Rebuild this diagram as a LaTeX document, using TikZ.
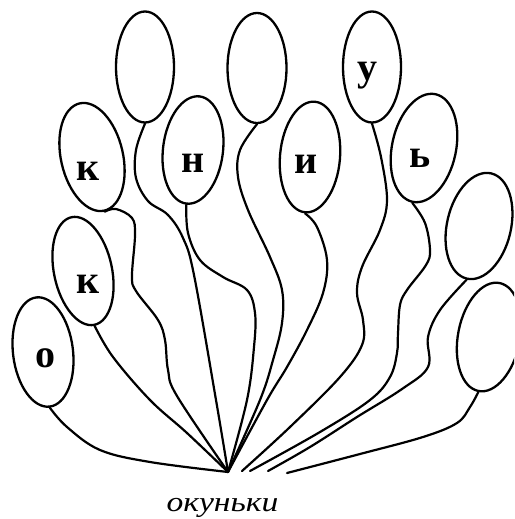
\documentclass[tikz,border=0pt]{standalone}
\usepackage{fontspec}
\setmainfont{Liberation Serif}
\usetikzlibrary{shapes.geometric}
\begin{document}
\begin{tikzpicture}[x=1pt,y=-1pt,
  blob/.style={draw, line width=2.3pt, ellipse, inner sep=0pt},
  wire/.style={line width=2.2pt, line cap=round},
  letter/.style={anchor=base, inner sep=0pt, font=\fontsize{40}{40}\selectfont\bfseries},
  caption/.style={anchor=base, inner sep=0pt, font=\fontsize{28}{28}\selectfont\itshape}]
\clip (0,0) rectangle (514,519);
\useasboundingbox (0,0) rectangle (514,519);
% ellipses
\node[blob, minimum width=58pt, minimum height=111pt] (A) at (145,67) {};
\node[blob, minimum width=59pt, minimum height=110pt] (B) at (257,68) {};
\node[blob, minimum width=58pt, minimum height=111pt] (u) at (372,67) {};
\node[blob, minimum width=62pt, minimum height=110pt, rotate=13] (ku) at (92,157) {};
\node[blob, minimum width=58pt, minimum height=110pt, rotate=12] (kl) at (83,271) {};
\node[blob, minimum width=60pt, minimum height=110pt, rotate=7] (o) at (43,352) {};
\node[blob, minimum width=60pt, minimum height=108pt, rotate=-7] (n) at (193,150) {};
\node[blob, minimum width=60pt, minimum height=111pt, rotate=-5] (i) at (310,157) {};
\node[blob, minimum width=64pt, minimum height=110pt, rotate=-12] (s) at (424,148) {};
\node[blob, minimum width=64pt, minimum height=108pt, rotate=-13] (r1) at (479,226) {};
\node[blob, minimum width=62pt, minimum height=110pt, rotate=-11] (r2) at (489,337) {};
% letters
\node[letter] (tku) at (88,180) {к};
\node[letter] (tkl) at (88,293) {к};
\node[letter] (to) at (45,367) {о};
\node[letter] (tn) at (193,172) {н};
\node[letter] (ti) at (306,173) {и};
\node[letter] (tu) at (367,80) {у};
\node[letter] (ts) at (420,167) {ь};
% ends
\coordinate (c) at (228,472);
\coordinate (e1) at (242,471);
\coordinate (e2) at (250,471);
\coordinate (e3) at (268,471);
\coordinate (e4) at (287,473);
% connectors
\draw[wire] plot[smooth, tension=0.6] coordinates {(o.south) (67,427) (100,450) (150,462) (c)};
\draw[wire] plot[smooth, tension=0.6] coordinates {(kl.south) (113,357) (150,400) (187,433) (c)};
\draw[wire] plot[smooth, tension=0.6] coordinates {(ku.south) (116,209) (132,218) (135,235) (132,276) (136,291) (158,320) (165,340) (168,370) (177,396) (c)};
\draw[wire] plot[smooth, tension=0.6] coordinates {(A.south) (136,150) (136,178) (148,201) (168,215) (183,238) (194,275) (216,400) (c)};
\draw[wire] plot[smooth, tension=0.6] coordinates {(n.south) (188,233) (200,260) (223,277) (247,290) (255,313) (254,347) (247,400) (c)};
\draw[wire] plot[smooth, tension=0.6] coordinates {(B.south) (240,150) (238,177) (248,210) (270,257) (282,290) (282,323) (273,360) (260,400) (c)};
\draw[wire] plot[smooth, tension=0.6] coordinates {(i.south) (317,227) (327,260) (323,293) (307,330) (287,367) (267,400) (c)};
\draw[wire] plot[smooth, tension=0.6] coordinates {(u.south) (381,157) (387,200) (380,230) (362,267) (357,293) (363,320) (362,345) (340,377) (290,427) (e1)};
\draw[wire] plot[smooth, tension=0.6] coordinates {(s.south) (425,223) (430,250) (426,265) (407,290) (400,305) (398,333) (397,353) (390,377) (370,400) (320,432) (e2)};
\draw[wire] plot[smooth, tension=0.6] coordinates {(r1.south) (440,310) (428,337) (428,367) (402,389) (357,417) (310,447) (e3)};
\draw[wire] plot[smooth, tension=0.6] coordinates {(r2.south) (470,407) (457,423) (423,437) (360,454) (e4)};
% caption
\node[caption] (cap) at (222.5,511) {\scalebox{1.2}[1]{окуньки}};
\end{tikzpicture}
\end{document}
